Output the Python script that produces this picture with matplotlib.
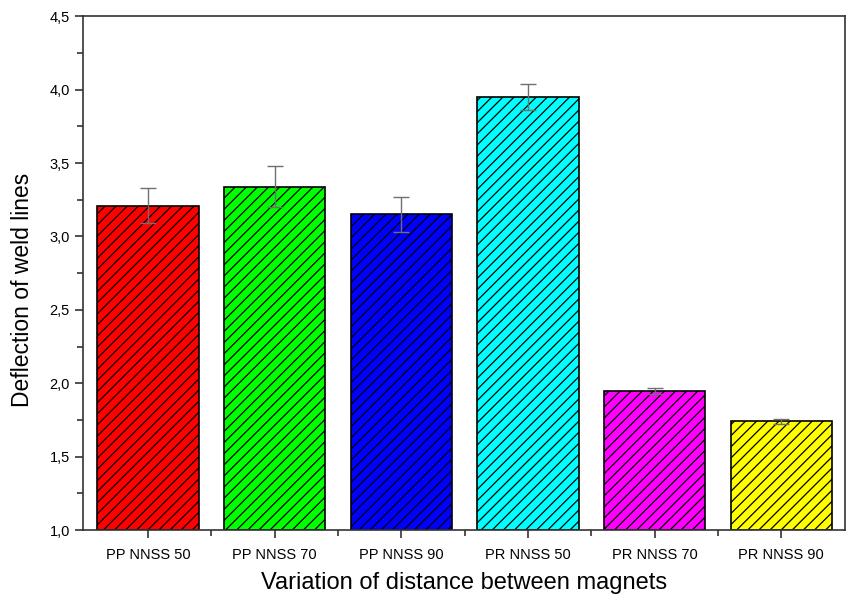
import numpy as np
import matplotlib
matplotlib.use('Agg')
import matplotlib.pyplot as plt
from matplotlib.ticker import MultipleLocator, FixedLocator

categories = ['PP NNSS 50', 'PP NNSS 70', 'PP NNSS 90', 'PR NNSS 50', 'PR NNSS 70', 'PR NNSS 90']
values = [3.21, 3.34, 3.15, 3.95, 1.95, 1.74]
errors = [0.12, 0.14, 0.12, 0.09, 0.02, 0.015]
colors = ['#ff0000', '#00ff00', '#0000ff', '#00ffff', '#ff00ff', '#ffff00']
yticks = [1.0, 1.5, 2.0, 2.5, 3.0, 3.5, 4.0, 4.5]

plt.rcParams['font.family'] = ['Liberation Sans', 'DejaVu Sans']
plt.rcParams['hatch.linewidth'] = 0.9

fig = plt.figure(figsize=(8.48, 6.03), dpi=100)
ax = fig.add_axes([0.098, 0.121, 0.898, 0.852])

x = np.arange(len(categories))
ax.bar(x, np.array(values) - 1.0, bottom=1.0, width=0.80, color=colors,
       edgecolor='black', linewidth=1.2, hatch='///', zorder=2)
ax.errorbar(x, values, yerr=errors, fmt='none', ecolor='#707070',
            elinewidth=1, capsize=6, capthick=1, zorder=3)

ax.set_xlim(-0.513, 5.50)
ax.set_ylim(1.0, 4.5)
ax.set_xticks(x)
ax.set_xticklabels(categories, fontsize=10.5)
ax.xaxis.set_minor_locator(FixedLocator(x[:-1] + 0.5))
ax.set_yticks(yticks)
ax.set_yticklabels([f'{v:.1f}'.replace('.', ',') for v in yticks], fontsize=10.5)
ax.yaxis.set_minor_locator(MultipleLocator(0.25))
ax.tick_params(axis='both', which='major', direction='out', length=6, width=1.2, color='#333333')
ax.tick_params(axis='both', which='minor', direction='out', length=4, width=1.2, color='#333333')
ax.tick_params(axis='x', pad=7)
for s in ax.spines.values():
    s.set_linewidth(1.2)
    s.set_color('#333333')

ax.set_ylabel('Deflection of weld lines', fontsize=16.5)
ax.yaxis.set_label_coords(-0.064, 0.467)
ax.set_xlabel('Variation of distance between magnets', fontsize=17, labelpad=7)

fig.savefig('out.png', dpi=100)
